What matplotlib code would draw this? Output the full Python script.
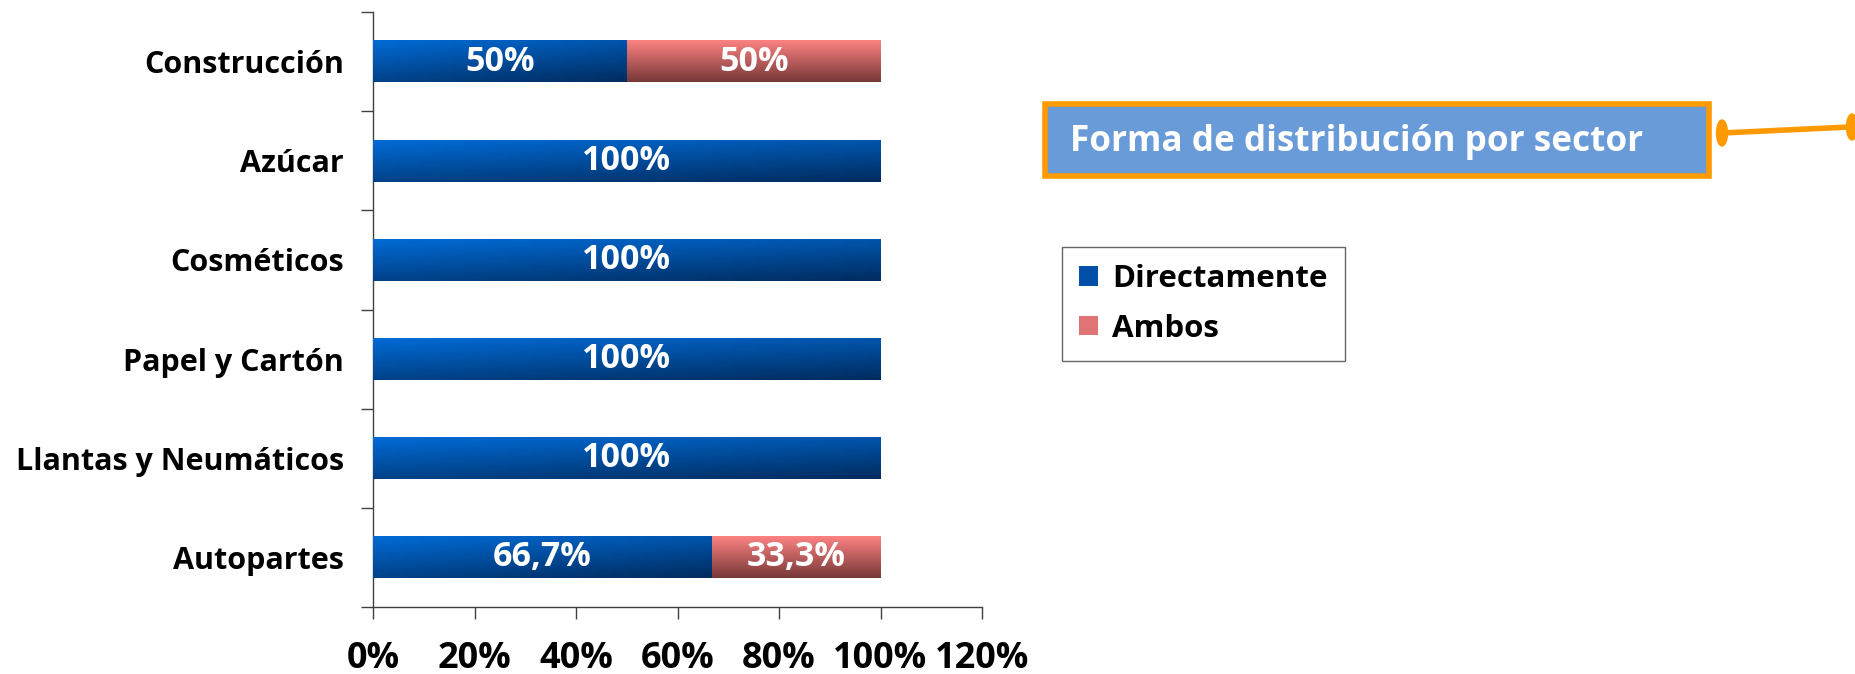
import matplotlib
matplotlib.use('Agg')
import matplotlib.pyplot as plt
from matplotlib.patches import Rectangle, Ellipse, Patch
from matplotlib.lines import Line2D
from matplotlib.ticker import FixedLocator, PercentFormatter
import numpy as np

plt.rcParams['font.family'] = ['Open Sans', 'DejaVu Sans']
plt.rcParams['font.weight'] = 'bold'

# data, bottom to top
sectores = ['Autopartes', 'Llantas y Neumáticos', 'Papel y Cartón',
            'Cosméticos', 'Azúcar', 'Construcción']
directamente = [66.7, 100, 100, 100, 100, 50]
ambos = [33.3, 0, 0, 0, 0, 50]
etiq_dir = ['66,7%', '100%', '100%', '100%', '100%', '50%']
etiq_amb = ['33,3%', '', '', '', '', '50%']
xticks = [0, 20, 40, 60, 80, 100, 120]

W, H = 1855, 674
fig = plt.figure(figsize=(W / 100, H / 100), dpi=100)
ax = fig.add_axes([373 / W, 1 - 607 / H, (982 - 373) / W, (607 - 12) / H])

y = np.arange(len(sectores))
bh = 0.42
b1 = ax.barh(y, directamente, height=bh, color='#0055aa', zorder=2)
b2 = ax.barh(y, ambos, left=directamente, height=bh, color='#c06060', zorder=2)


def gradiente(c_top, c_bot, diag):
    ny, nx = 64, 64
    yy, xx = np.mgrid[0:1:ny * 1j, 0:1:nx * 1j]
    t = np.clip((1 - diag) * yy + diag * xx, 0, 1)
    c_top = np.array(c_top)
    c_bot = np.array(c_bot)
    return c_top[None, None, :] * (1 - t[..., None]) + c_bot[None, None, :] * t[..., None]


g_blue = gradiente((0.0, 0.42, 0.84), (0.0, 0.17, 0.37), 0.35)
g_pink = gradiente((0.99, 0.51, 0.51), (0.47, 0.22, 0.22), 0.0)

for bars, g in ((b1, g_blue), (b2, g_pink)):
    for p in bars:
        if p.get_width() <= 0:
            continue
        x0, y0, w, h = p.get_x(), p.get_y(), p.get_width(), p.get_height()
        ax.imshow(g, extent=[x0, x0 + w, y0, y0 + h], aspect='auto',
                  interpolation='bilinear', zorder=3)

for bars, labels in ((b1, etiq_dir), (b2, etiq_amb)):
    for p, lab in zip(bars, labels):
        if not lab:
            continue
        ax.text(p.get_x() + p.get_width() / 2, p.get_y() + p.get_height() / 2,
                lab, color='white', ha='center', va='center',
                fontsize=24.5, fontweight='bold', zorder=4)

ax.set_xlim(0, 120)
ax.set_ylim(-0.5, len(sectores) - 0.5)
ax.set_xticks(xticks)
ax.xaxis.set_major_formatter(PercentFormatter(decimals=0))
ax.set_yticks(y)
ax.set_yticklabels(sectores)
ax.yaxis.set_minor_locator(FixedLocator(np.arange(-0.5, len(sectores), 1)))
ax.tick_params(axis='y', which='major', length=0, pad=21, labelsize=22)
ax.tick_params(axis='y', which='minor', length=8.5, width=1, direction='out', color='#404040')
ax.tick_params(axis='x', length=8.5, width=1, direction='out', pad=16,
               labelsize=26, color='#404040')
for lab in ax.get_xticklabels() + ax.get_yticklabels():
    lab.set_fontweight('bold')
for s in ('top', 'right'):
    ax.spines[s].set_visible(False)
for s in ('left', 'bottom'):
    ax.spines[s].set_color('#404040')
    ax.spines[s].set_linewidth(1)

# title box
fig.patches.append(Rectangle((1045 / W, 1 - 176 / H), (1709 - 1045) / W, (176 - 104) / H,
                             transform=fig.transFigure, facecolor='#6a9bd9',
                             edgecolor='#ff9900', linewidth=4))
fig.text(1070 / W, 1 - 142 / H, 'Forma de distribución por sector', color='white',
         fontsize=25.3, fontweight='bold', ha='left', va='center')

# connector
fig.add_artist(Line2D([1722 / W, 1850 / W], [1 - 133 / H, 1 - 127 / H],
                      transform=fig.transFigure, color='#ff9900', linewidth=4))
for cx, cy in ((1722, 133), (1852, 127)):
    fig.patches.append(Ellipse((cx / W, 1 - cy / H), 11 / W, 26 / H,
                               transform=fig.transFigure, facecolor='#ff9900',
                               edgecolor='#ff9900'))

# legend
handles = [Patch(facecolor='#0050a8', edgecolor='none', label='Directamente'),
           Patch(facecolor='#e07474', edgecolor='none', label='Ambos')]
leg = fig.legend(handles=handles, loc='upper left',
                 bbox_to_anchor=(1062 / W, 1 - 247 / H),
                 frameon=True, fancybox=False, edgecolor='#404040',
                 fontsize=22.5, handlelength=0.6, handleheight=0.6,
                 handletextpad=0.45, labelspacing=0.62, borderpad=0.55,
                 borderaxespad=0)
leg.get_frame().set_linewidth(1)
for t in leg.get_texts():
    t.set_fontweight('bold')

fig.savefig('out.png', dpi=100)
